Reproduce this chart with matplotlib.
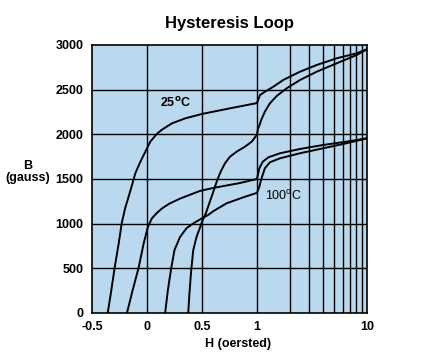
import numpy as np
import matplotlib
matplotlib.use('Agg')
import matplotlib.pyplot as plt

plt.rcParams['font.family'] = ['Liberation Sans', 'DejaVu Sans']

# 25 C loop (H in oersted, B in gauss)
h25_down = [10, 8.06, 5.3, 3.49, 2.46, 1.73, 1.41, 1.18, 1.065, 1.0, 0.75, 0.5, 0.348, 0.227, 0.136,
            0.091, 0.03, -0.015, -0.06, -0.106, -0.136, -0.167, -0.197, -0.23, -0.257, -0.294, -0.324, -0.357]
b25_down = [2952, 2907, 2851, 2776, 2701, 2608, 2533, 2477, 2440, 2350, 2290, 2228, 2179, 2123, 2052,
            2007, 1918, 1806, 1694, 1564, 1433, 1302, 1180, 1004, 780, 507, 257, 0]
h25_up = [0.375, 0.385, 0.40, 0.42, 0.45, 0.48, 0.50, 0.536, 0.567, 0.603, 0.639, 0.67, 0.709, 0.755,
          0.815, 0.891, 0.952, 1.0, 1.02, 1.065, 1.10, 1.18, 1.31, 1.51, 1.86, 2.46, 3.49, 5.3, 8.06, 10]
b25_up = [0, 200, 450, 700, 850, 950, 1020, 1120, 1230, 1358, 1489, 1582, 1676, 1750,
          1806, 1862, 1918, 1996, 2060, 2120, 2170, 2254, 2347, 2429, 2515, 2608, 2701, 2795, 2888, 2952]

# 100 C loop
h100_down = [10, 6.5, 4.0, 2.46, 1.62, 1.27, 1.13, 1.05, 1.0, 0.845, 0.603, 0.48, 0.3, 0.2, 0.136,
             0.09, 0.045, 0.009, -0.03, -0.076, -0.13, -0.182]
b100_down = [1955, 1918, 1881, 1836, 1788, 1743, 1694, 1620, 1500, 1455, 1400, 1366, 1280, 1222, 1170,
             1120, 1060, 966, 780, 507, 257, 0]
h100_up = [0.165, 0.19, 0.22, 0.25, 0.30, 0.36, 0.43, 0.5, 0.56, 0.603, 0.724, 0.876, 1.0,
           1.05, 1.10, 1.18, 1.31, 1.62, 2.46, 4.0, 6.5, 10]
b100_up = [0, 257, 500, 705, 850, 950, 1010, 1060, 1100, 1140, 1228, 1295, 1345,
           1414, 1508, 1620, 1687, 1732, 1788, 1844, 1900, 1955]

x_ticks = [-0.5, 0, 0.5, 1, 10]
x_labels = ['-0.5', '0', '0.5', '1', '10']
x_grid = [0, 0.5, 1, 2, 3, 4, 5, 6, 7, 8, 9]
y_ticks = [0, 500, 1000, 1500, 2000, 2500, 3000]


# linear below 1 oersted, one decade per unit above
def fwd(x):
    x = np.asarray(x, dtype=float)
    return np.where(x <= 1, x, 1 + np.log10(np.maximum(x, 1e-9)))


def inv(u):
    u = np.asarray(u, dtype=float)
    return np.where(u <= 1, u, 10 ** (u - 1))


fig = plt.figure(figsize=(4.21, 3.56), dpi=100)
ax = fig.add_axes([0.2185, 0.1208, 0.6532, 0.7528])
ax.set_xscale('function', functions=(fwd, inv))
ax.set_facecolor('#bad8ee')
ax.set_xlim(-0.5, 10)
ax.set_ylim(0, 3000)

for g in x_grid:
    ax.axvline(g, color='black', lw=1.0, zorder=1)
for g in y_ticks[1:-1]:
    ax.axhline(g, color='black', lw=1.0, zorder=1)

for h, b in [(h25_down, b25_down), (h25_up, b25_up), (h100_down, b100_down), (h100_up, b100_up)]:
    ax.plot(h, b, color='black', lw=1.4, zorder=3, solid_joinstyle='round')

ax.set_xticks(x_ticks)
ax.set_xticklabels(x_labels)
ax.xaxis.set_minor_locator(plt.NullLocator())
ax.set_yticks(y_ticks)
ax.tick_params(length=0, labelsize=9, pad=6)
for lbl in ax.get_xticklabels() + ax.get_yticklabels():
    lbl.set_fontweight('bold')
for s in ax.spines.values():
    s.set_linewidth(1.2)

ax.text(0.255, 2354, '25$^{\\mathbf{o}}$C', fontsize=9, fontweight='bold', ha='center', va='center')
ax.text(1.73, 1310, '100$^{\\mathregular{o}}$C', fontsize=9, ha='center', va='center')

ax.set_title('Hysteresis Loop', fontsize=12, fontweight='bold', pad=12)
ax.set_xlabel('H (oersted)', fontsize=9, fontweight='bold')
ax.xaxis.set_label_coords(0.53, -0.095)
fig.text(0.066, 0.517, 'B\n(gauss)', fontsize=9, fontweight='bold', ha='center', va='center', linespacing=1.0)

fig.savefig('out.png', dpi=100)
